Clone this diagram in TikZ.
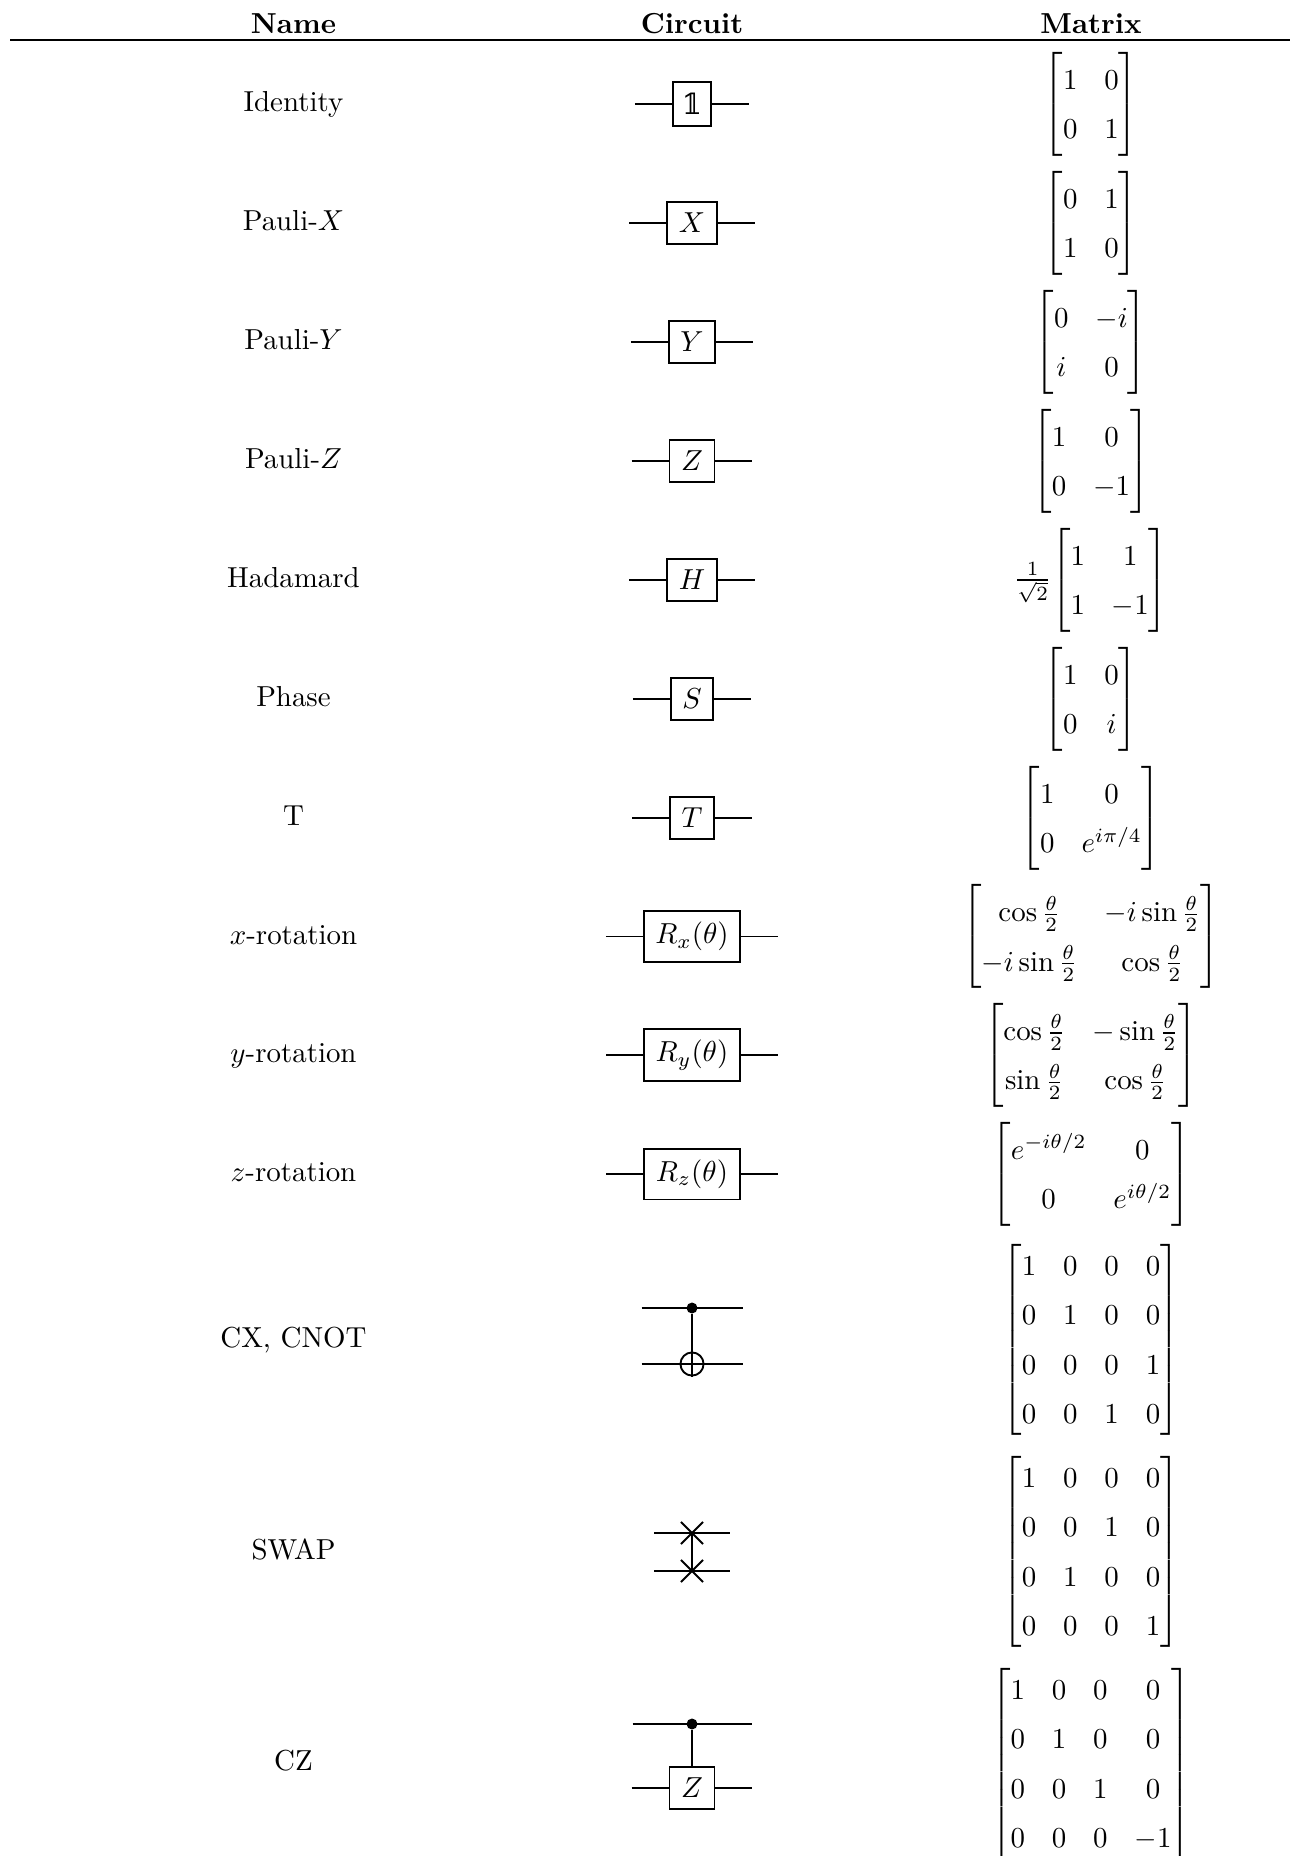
\documentclass[tikz,border=0pt]{standalone}
\usepackage{amsmath}
\usepackage{amssymb}
\usepackage{fontspec}
\newfontfamily\dblfont{DejaVu Serif}
\usetikzlibrary{positioning, shapes.misc}
\renewcommand{\arraystretch}{1.425}
\setlength{\arraycolsep}{4.65pt}
\newcommand{\idone}{\mbox{\kern-0.8pt\dblfont\symbol{"1D7D9}\kern-0.8pt}}
\tikzset{
	wire/.style= {
		line width=0.65pt
	},
	gatebox/.style= {
		rectangle,
		draw,
		line width=0.65pt,
		fill=white,
		inner xsep=4pt,
		inner ysep=3.8pt,
		minimum height=14.3pt
	},
	rowname/.style= {
		anchor=base,
		inner sep=0
	},
	colhead/.style= {
		anchor=base,
		inner sep=0,
		font=\bfseries
	},
	mat/.style= {
		inner sep=0
	},
	ctrldot/.style= {
		circle,
		fill,
		inner sep=0,
		minimum size=3.8pt
	},
	targ/.style= {
		circle,
		draw,
		line width=0.65pt,
		inner sep=0,
		minimum size=8pt
	},
	swapx/.style= {
		cross out,
		draw,
		line width=0.65pt,
		inner sep=0,
		minimum size=7pt
	},
}
\newcommand{\wirepair}[4]{
	\coordinate (#1l) at (#3,#2);
	\coordinate (#1r) at (#4,#2);
	\draw[wire] (#1l) to (#1r);
}
\newcommand{\gaterow}[5]{
	\node (#1name) [rowname] at (293.5,#2+7.5) {#3};
	\node (#1gate) [gatebox] at (692,#2) {$#4$};
	\coordinate[left=12.8pt of #1gate] (#1l);
	\coordinate[right=12.8pt of #1gate] (#1r);
	\draw[wire] (#1l) to (#1gate);
	\draw[wire] (#1gate) to (#1r);
	\node (#1mat) [mat] at (1091,#2) {$#5$};
}
\begin{document}
\begin{tikzpicture}[x=0.346pt, y=-0.346pt]
	\useasboundingbox (0,0) rectangle (1290,1856);

	\node (namehead) [colhead] at (293.5,34) {Name};
	\node (circhead) [colhead] at (692,34) {Circuit};
	\node (mathead) [colhead] at (1091,34) {Matrix};
	\coordinate (rulel) at (10,39.7);
	\coordinate (ruler) at (1290,39.7);
	\draw[line width=0.6pt] (rulel) to (ruler);

	\gaterow{id}{104}{Identity}{\idone}{\begin{bmatrix} 1 & 0 \\ 0 & 1 \end{bmatrix}}
	\gaterow{px}{223}{Pauli-$X$}{X}{\begin{bmatrix} 0 & 1 \\ 1 & 0 \end{bmatrix}}
	\gaterow{py}{342}{Pauli-$Y$}{Y}{\begin{bmatrix} 0 & -i \\ i & 0 \end{bmatrix}}
	\gaterow{pz}{461}{Pauli-$Z$}{Z}{\begin{bmatrix} 1 & 0 \\ 0 & -1 \end{bmatrix}}
	\gaterow{had}{580}{Hadamard}{H}{\frac{1}{\sqrt{2}}\!\begin{bmatrix} 1 & 1 \\ 1 & -1 \end{bmatrix}}
	\gaterow{phase}{699}{Phase}{S}{\begin{bmatrix} 1 & 0 \\ 0 & i \end{bmatrix}}
	\gaterow{tg}{818}{T}{T}{\begin{bmatrix} 1 & 0 \\ 0 & e^{i\pi/4} \end{bmatrix}}
	\gaterow{rx}{936.5}{$x$-rotation}{R_x(\theta)}{\begin{bmatrix} \cos\frac{\theta}{2} & -i\sin\frac{\theta}{2} \\ -i\sin\frac{\theta}{2} & \cos\frac{\theta}{2} \end{bmatrix}}
	\gaterow{ry}{1055}{$y$-rotation}{R_y(\theta)}{\begin{bmatrix} \cos\frac{\theta}{2} & -\sin\frac{\theta}{2} \\ \sin\frac{\theta}{2} & \cos\frac{\theta}{2} \end{bmatrix}}
	\gaterow{rz}{1174}{$z$-rotation}{R_z(\theta)}{\begin{bmatrix} e^{-i\theta/2} & 0 \\ 0 & e^{i\theta/2} \end{bmatrix}}

	% two-qubit gates
	\node (cxname) [rowname] at (293.5,1347.5) {CX, CNOT};
	\wirepair{cxa}{1308}{641.5}{743}
	\wirepair{cxb}{1364}{641.5}{743}
	\node (cxctrl) [ctrldot] at (692,1308) {};
	\node (cxtarg) [targ] at (692,1364) {};
	\draw[wire] (cxctrl) to (cxtarg.south);
	\node (cxmat) [mat] at (1091,1339.5) {$\begin{bmatrix} 1 & 0 & 0 & 0 \\ 0 & 1 & 0 & 0 \\ 0 & 0 & 0 & 1 \\ 0 & 0 & 1 & 0 \end{bmatrix}$};

	\node (swapname) [rowname] at (293.5,1559.5) {SWAP};
	\wirepair{swapa}{1533}{654}{730}
	\wirepair{swapb}{1571}{654}{730}
	\node (swaptop) [swapx] at (692,1533) {};
	\node (swapbot) [swapx] at (692,1571) {};
	\draw[wire] (swaptop.center) to (swapbot.center);
	\node (swapmat) [mat] at (1091,1551.5) {$\begin{bmatrix} 1 & 0 & 0 & 0 \\ 0 & 0 & 1 & 0 \\ 0 & 1 & 0 & 0 \\ 0 & 0 & 0 & 1 \end{bmatrix}$};

	\node (czname) [rowname] at (293.5,1770.5) {CZ};
	\wirepair{cza}{1724}{632.5}{752}
	\node (czctrl) [ctrldot] at (692,1724) {};
	\node (czgate) [gatebox] at (692,1788) {$Z$};
	\coordinate[left=12.8pt of czgate] (czbl);
	\coordinate[right=12.8pt of czgate] (czbr);
	\draw[wire] (czbl) to (czgate);
	\draw[wire] (czgate) to (czbr);
	\draw[wire] (czctrl) to (czgate);
	\node (czmat) [mat] at (1091,1763.5) {$\begin{bmatrix} 1 & 0 & 0 & 0 \\ 0 & 1 & 0 & 0 \\ 0 & 0 & 1 & 0 \\ 0 & 0 & 0 & -1 \end{bmatrix}$};
\end{tikzpicture}
\end{document}
